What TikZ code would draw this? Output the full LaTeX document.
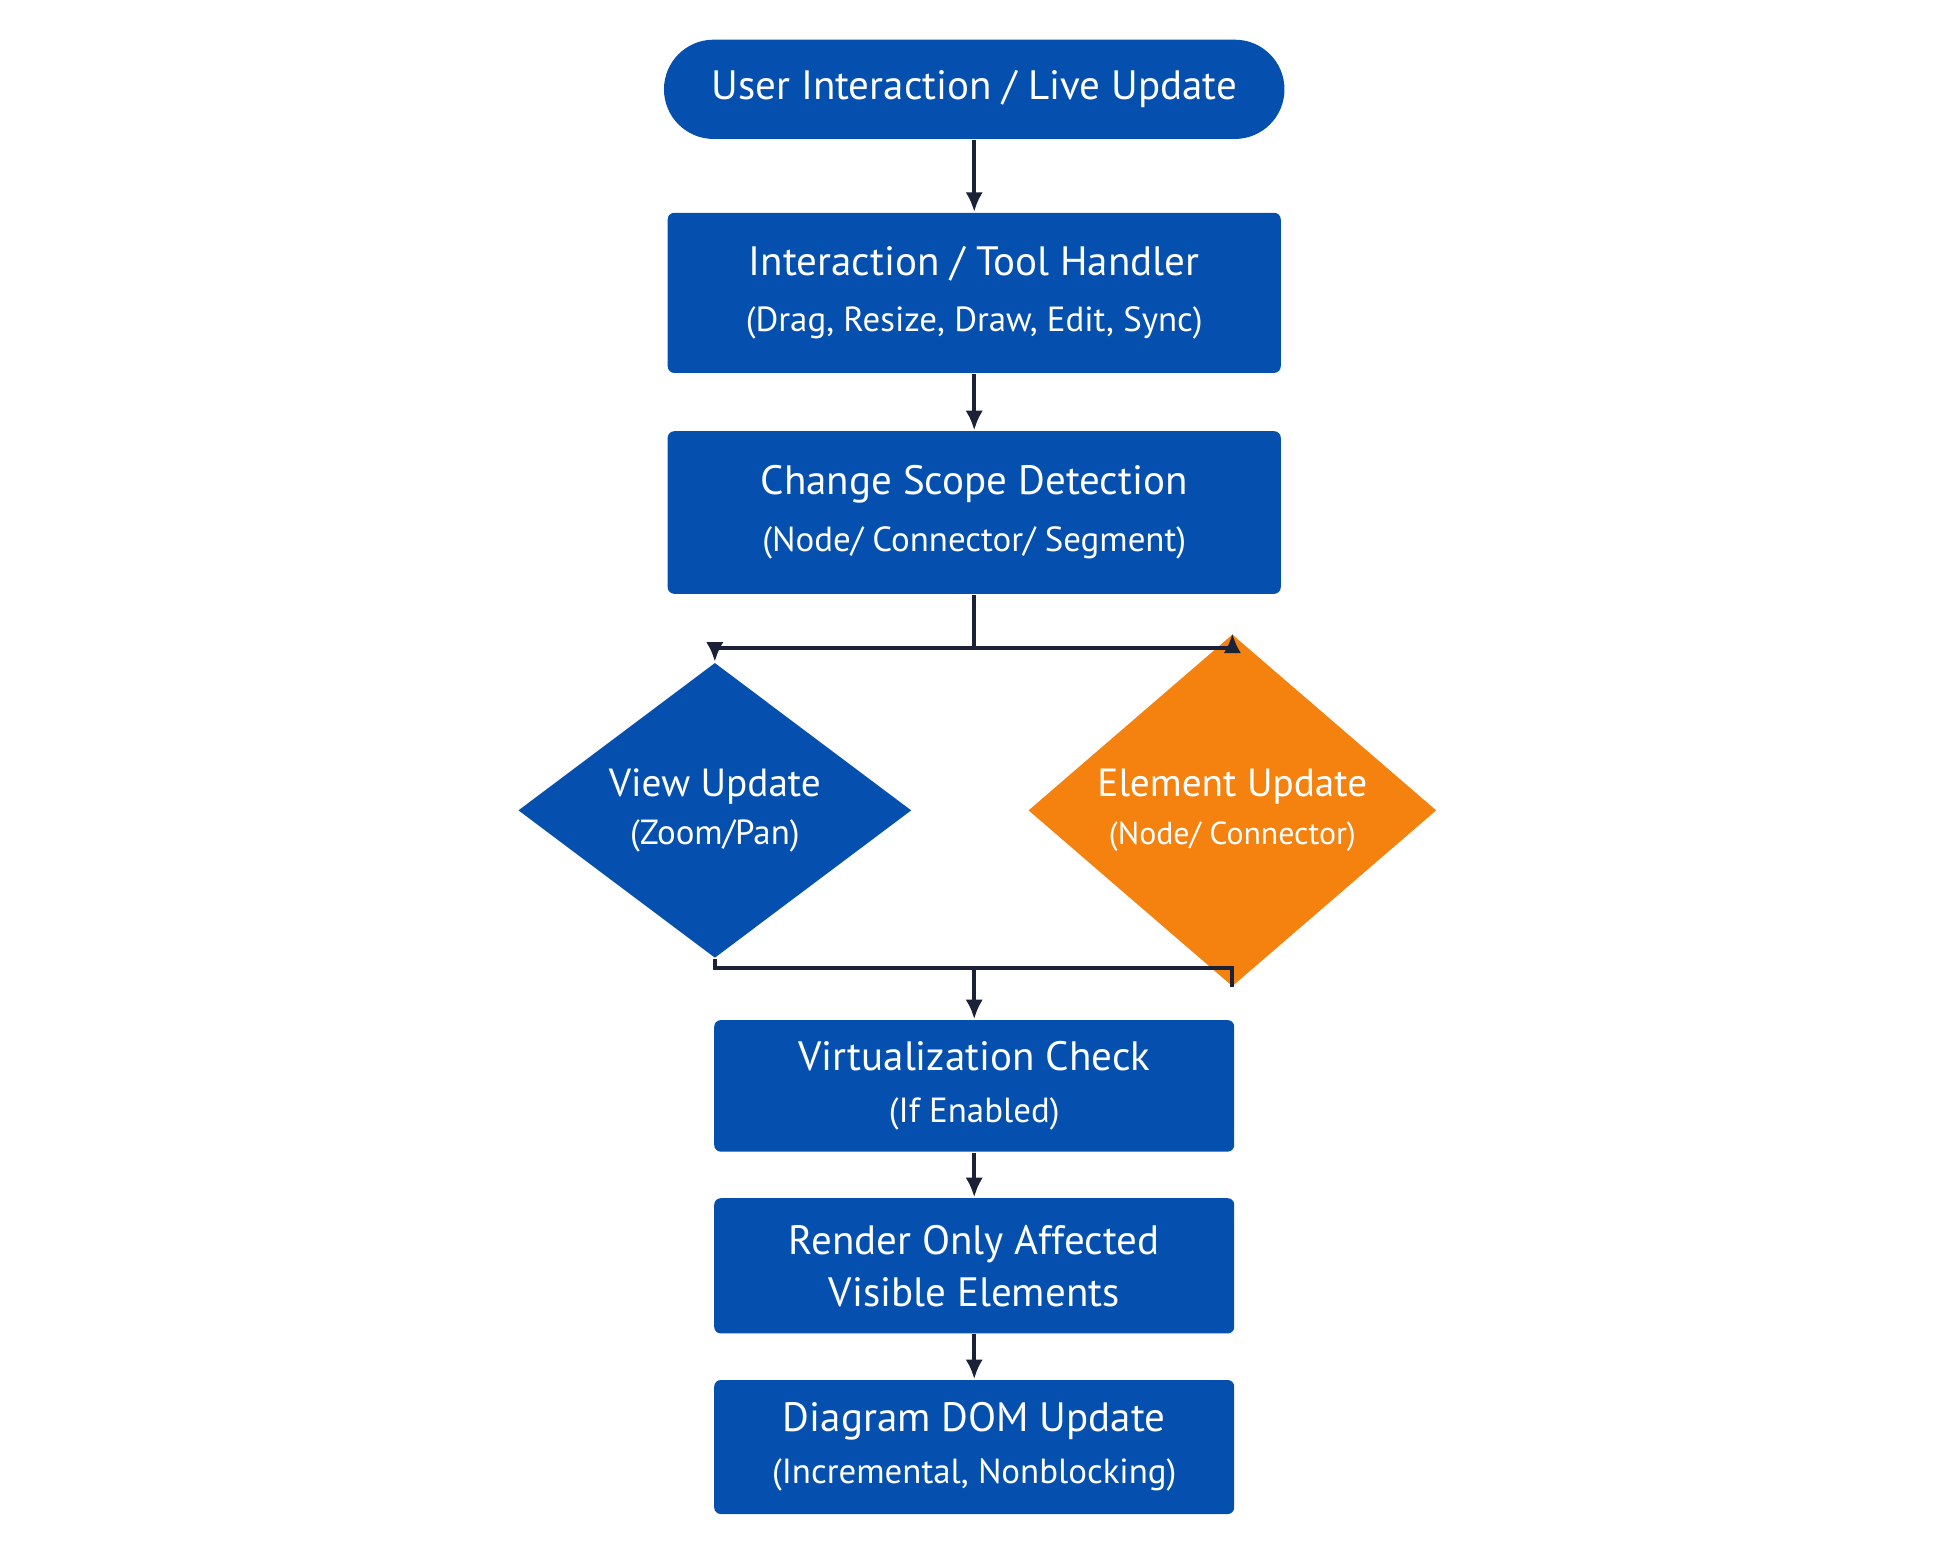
\documentclass[tikz,border=0pt]{standalone}
\usepackage{fontspec}
\setmainfont{PT Sans}
\usetikzlibrary{shapes.geometric,arrows.meta,positioning}
\definecolor{flowblue}{HTML}{0550AE}
\definecolor{floworange}{HTML}{F5820F}
\definecolor{flowline}{HTML}{1B2238}
\newcommand{\subtxt}{\fontsize{8}{10}\selectfont}
\begin{document}
\begin{tikzpicture}
        [box/.style={draw=none,fill=flowblue,text=white,rounded corners=1.5pt,align=center,inner sep=2pt,font=\fontsize{9.4}{12}\selectfont},
         dia/.style={diamond,fill=flowblue,text=white,inner sep=0pt,align=center,font=\fontsize{9}{11}\selectfont},
         arr/.style={-{Latex[length=4.5pt,width=4pt]},line width=0.9pt,flowline}]
        \useasboundingbox (0,0) rectangle (15.6,12.48);
        \node[box,rounded corners=0.4cm,minimum width=5cm,minimum height=0.8cm] (start) at (7.85,11.76) {User Interaction / Live Update};
        \node[box,minimum width=4.94cm,minimum height=1.29cm] (tool) at (7.85,10.12) {Interaction / Tool Handler\\[1pt]{\subtxt (Drag, Resize, Draw, Edit, Sync)}};
        \node[box,minimum width=4.94cm,minimum height=1.31cm] (scope) at (7.85,8.35) {Change Scope Detection\\[1pt]{\subtxt (Node/ Connector/ Segment)}};
        \node[dia,minimum width=3.17cm,minimum height=1.83cm] (view) at (5.76,5.95) {View Update\\{\subtxt (Zoom/Pan)}};
        \node[dia,fill=floworange,minimum width=3.29cm,minimum height=1.88cm] (elem) at (9.93,5.95) {Element Update\\{\fontsize{7.3}{9}\selectfont (Node/ Connector)}};
        \node[box,minimum width=4.19cm,minimum height=1.06cm] (virt) at (7.85,3.73) {Virtualization Check\\{\subtxt (If Enabled)}};
        \node[box,minimum width=4.19cm,minimum height=1.09cm] (render) at (7.85,2.28) {Render Only Affected\\Visible Elements};
        \node[box,minimum width=4.19cm,minimum height=1.08cm] (dom) at (7.85,0.82) {Diagram DOM Update\\{\subtxt (Incremental, Nonblocking)}};
        \coordinate (split) at (7.85,7.26);
        \coordinate (merge) at (7.85,4.68);

        \draw[arr] (start) -- (tool);
        \draw[arr] (tool) -- (scope);
        \draw[line width=0.9pt,flowline] (scope) -- (split);
        \draw[arr] (split) -| (view.north);
        \draw[arr] (split) -| (elem.north);
        \draw[line width=0.9pt,flowline] (view.south) |- (merge);
        \draw[line width=0.9pt,flowline] (elem.south) |- (merge);
        \draw[arr] (merge) -- (virt);
        \draw[arr] (virt) -- (render);
        \draw[arr] (render) -- (dom);
      \end{tikzpicture}
\end{document}
